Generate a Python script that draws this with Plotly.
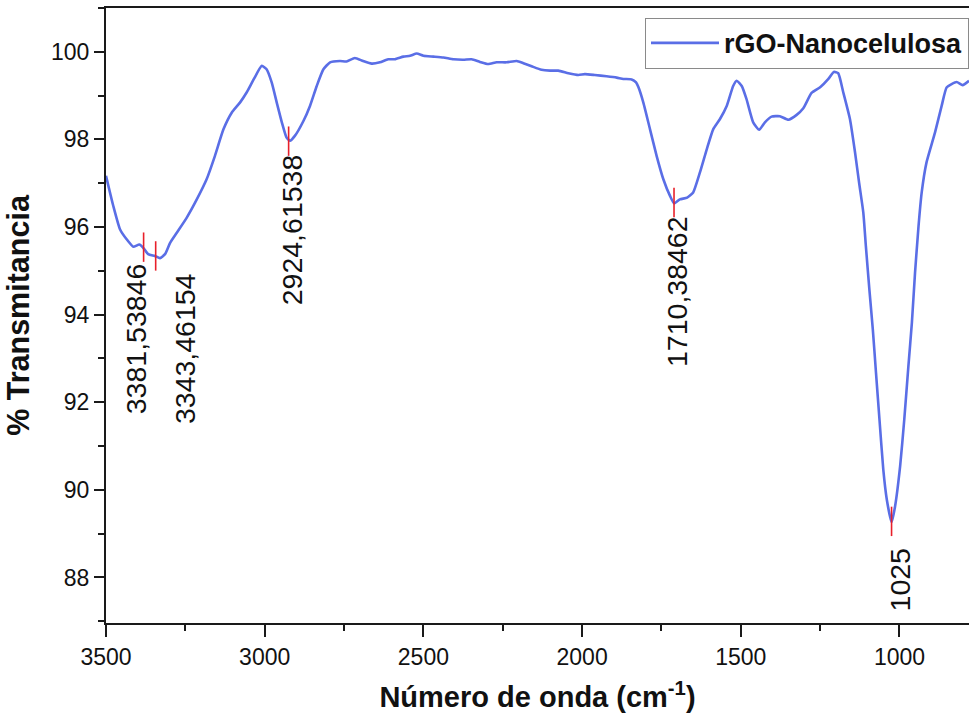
import plotly.graph_objects as go

# Wavenumber (cm-1) and transmittance (%)
wavenumber = [3500, 3477, 3456, 3435, 3414, 3395, 3382, 3367, 3346, 3330, 3314, 3298, 3277, 3246,
              3214, 3183, 3157, 3130, 3104, 3078, 3057, 3034, 3009, 2994, 2978, 2962, 2946, 2931,
              2920, 2905, 2878, 2857, 2836, 2815, 2794, 2763, 2742, 2716, 2690, 2663, 2637, 2611,
              2590, 2563, 2542, 2521, 2500, 2468, 2437, 2405, 2374, 2348, 2322, 2296, 2269, 2238,
              2206, 2185, 2159, 2128, 2101, 2075, 2043, 2012, 1991, 1960, 1923, 1891, 1870, 1844,
              1830, 1823, 1807, 1786, 1765, 1744, 1723, 1710, 1692, 1669, 1650, 1629, 1607, 1587,
              1566, 1544, 1524, 1513, 1497, 1482, 1461, 1442, 1424, 1403, 1377, 1350, 1324, 1303,
              1277, 1250, 1224, 1207, 1193, 1177, 1156, 1140, 1127, 1114, 1106, 1095, 1084, 1074,
              1063, 1051, 1040, 1025, 1014, 998, 985, 972, 961, 951, 940, 930, 915, 888, 867, 851,
              820, 801, 781]
transmittance = [97.17, 96.48, 95.95, 95.72, 95.55, 95.60, 95.52, 95.38, 95.34, 95.29, 95.38, 95.64, 95.87, 96.21,
                 96.63, 97.09, 97.62, 98.23, 98.61, 98.84, 99.07, 99.38, 99.68, 99.60, 99.30, 98.84, 98.39, 98.04,
                 97.97, 98.08, 98.42, 98.77, 99.22, 99.60, 99.76, 99.79, 99.78, 99.86, 99.79, 99.73, 99.76, 99.83,
                 99.83, 99.89, 99.91, 99.96, 99.91, 99.89, 99.87, 99.83, 99.82, 99.83, 99.77, 99.72, 99.76, 99.76,
                 99.79, 99.74, 99.67, 99.59, 99.57, 99.57, 99.51, 99.47, 99.49, 99.47, 99.44, 99.41, 99.38, 99.37,
                 99.30, 99.20, 98.84, 98.23, 97.62, 97.09, 96.71, 96.54, 96.63, 96.67, 96.79, 97.24, 97.78, 98.23,
                 98.46, 98.77, 99.22, 99.34, 99.22, 98.92, 98.39, 98.22, 98.39, 98.52, 98.53, 98.45, 98.56, 98.71,
                 99.06, 99.19, 99.38, 99.54, 99.51, 99.07, 98.46, 97.70, 97.00, 96.33, 95.57, 94.58, 93.66, 92.67,
                 91.60, 90.46, 89.78, 89.26, 89.62, 90.54, 91.60, 92.82, 93.81, 94.96, 96.02, 96.79, 97.47, 98.16, 98.77, 99.19,
                 99.31, 99.24, 99.34]

# Labelled peaks
peak_x = [3381.53846, 3343.46154, 2924.61538, 1710.38462, 1025]
peak_y = [95.54, 95.34, 97.96, 96.56, 89.28]
peak_labels = ["3381,53846", "3343,46154", "2924,61538", "1710,38462", "1025"]
label_xshift = [-8, 30, 3, 3, 8]
label_yshift = [-14, -15, -11, -12, -25]

series_name = "rGO-Nanocelulosa"
x_title = "Número de onda (cm<sup>-1</sup>)"
y_title = "% Transmitancia"

FONT = "Liberation Sans, Arial, sans-serif"

fig = go.Figure()
fig.add_trace(go.Scatter(
    x=wavenumber, y=transmittance, mode="lines", name=series_name,
    line=dict(color="#5A6EE6", width=2.6, shape="spline", smoothing=0.5),
))
fig.add_trace(go.Scatter(
    x=peak_x, y=peak_y, mode="markers", showlegend=False,
    marker=dict(symbol="line-ns", size=21, line=dict(color="#E8202A", width=1.6)),
    hoverinfo="skip",
))

for px, py, lab, dx, dy in zip(peak_x, peak_y, peak_labels, label_xshift, label_yshift):
    fig.add_annotation(
        x=px, y=py, text=lab, showarrow=False, textangle=-90,
        xanchor="center", yanchor="top", xshift=dx, yshift=dy,
        font=dict(family=FONT, size=28.5, color="#111111"),
    )

axis_common = dict(
    showgrid=False, zeroline=False,
    showline=True, linecolor="#1a1a1a", linewidth=2,
    ticks="outside", tickcolor="#1a1a1a", tickwidth=2,
    tickfont=dict(family=FONT, size=23, color="#111111"),
)

fig.update_layout(
    width=969, height=717,
    margin=dict(l=106, r=0, t=8, b=94),
    paper_bgcolor="white", plot_bgcolor="white",
    showlegend=True,
    legend=dict(
        x=0.6246, y=0.984, xanchor="left", yanchor="top",
        bordercolor="#8a8a8a", borderwidth=1, bgcolor="white",
        font=dict(family=FONT, size=27, color="#111111", weight="bold"),
        itemwidth=68,
    ),
    xaxis=dict(
        **axis_common,
        range=[3500, 781], dtick=500, tick0=0, ticklen=12, mirror=True,
        minor=dict(ticks="outside", ticklen=6, tickwidth=2, tickcolor="#1a1a1a", dtick=250, tick0=0),
        title=dict(text=x_title, standoff=18,
                   font=dict(family=FONT, size=29, color="#111111", weight="bold")),
    ),
    yaxis=dict(
        **axis_common,
        range=[86.96, 101.0], dtick=2, tick0=0, ticklen=10,
        minor=dict(ticks="outside", ticklen=6, tickwidth=2, tickcolor="#1a1a1a", dtick=1, tick0=0),
        title=dict(text=y_title, standoff=12,
                   font=dict(family=FONT, size=30.5, color="#111111", weight="bold")),
    ),
)

fig.write_html("out.html")
